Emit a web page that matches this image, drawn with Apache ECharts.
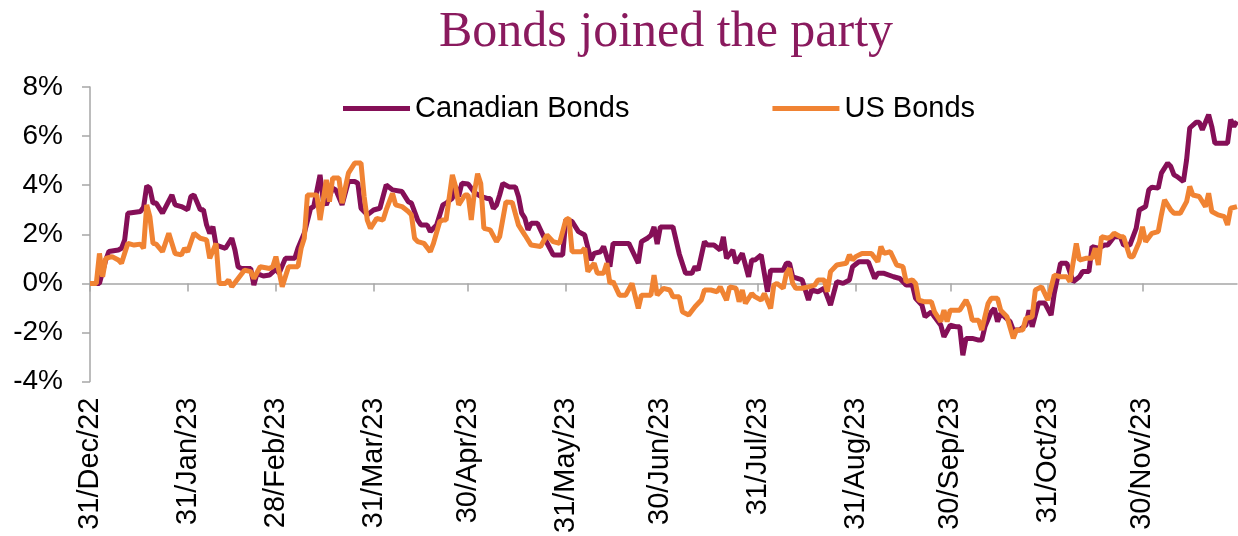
<!DOCTYPE html>
<html>
<head>
<meta charset="utf-8">
<script src="https://cdn.jsdelivr.net/npm/echarts@6/dist/echarts.min.js"></script>
<style>html,body{margin:0;padding:0;background:#fff;}#c{width:1238px;height:536px;}</style>
</head>
<body>
<div id="c"></div>
<script>
// Month-end tick labels on the x axis
const tickLabels = ['31/Dec/22','31/Jan/23','28/Feb/23','31/Mar/23','30/Apr/23','31/May/23','30/Jun/23','31/Jul/23','31/Aug/23','30/Sep/23','31/Oct/23','30/Nov/23'];
const yTicks = [-4, -2, 0, 2, 4, 6, 8];
const seriesNames = ['Canadian Bonds', 'US Bonds'];

// [day index since 31/Dec/22, % return]
const canadian = [[0,0],[3,0],[5,0.95],[6,1.3],[9,1.36],[10,1.43],[11,1.77],[12,2.86],[16,2.93],[17,3.1],[18,3.97],[19,3.88],[20,3.27],[21,3.27],[23,2.86],[26,3.6],[27,3.2],[29,3.13],[31,3.0],[32,3.54],[33,3.6],[35,3.0],[36,3.0],[37,2.38],[38,2.04],[39,2.31],[40,1.56],[43,1.43],[45,1.84],[46,1.36],[47,0.68],[48,0.61],[51,0.61],[52,-0.07],[53,0.4],[55,0.3],[57,0.34],[59,0.58],[60,0.41],[62,1.02],[65,1.02],[66,1.43],[68,2.04],[70,3.06],[71,3.13],[73,4.42],[74,3.4],[75,3.2],[77,3.88],[78,3.81],[80,3.2],[82,4.15],[84,4.15],[85,4.08],[86,3.06],[88,2.79],[90,2.99],[92,3.06],[94,4.01],[96,3.81],[99,3.74],[101,3.33],[102,3.27],[104,2.58],[105,2.38],[107,2.38],[108,2.11],[110,2.38],[112,3.2],[113,3.27],[115,3.47],[116,3.95],[117,3.54],[118,4.08],[120,4.05],[122,3.7],[124,3.55],[126,3.46],[127,3.46],[128,3.05],[129,3.19],[130,3.6],[131,4.07],[133,3.93],[135,3.93],[136,3.53],[137,2.86],[138,2.66],[139,2.18],[140,2.45],[142,2.45],[144,1.9],[147,1.16],[150,1.16],[151,2.59],[153,2.52],[155,2.11],[157,1.97],[159,0.95],[160,1.22],[162,1.29],[163,1.5],[165,0.68],[166,1.63],[169,1.63],[171,1.63],[174,0.82],[175,1.7],[177,1.85],[178,1.96],[179,2.3],[180,1.6],[181,2.3],[185,2.3],[187,1.2],[189,0.41],[191,0.41],[192,0.68],[193,0.54],[195,1.7],[196,1.56],[198,1.56],[200,1.36],[201,1.9],[202,1.02],[204,1.36],[205,0.82],[206,1.02],[207,1.22],[209,0.27],[210,0.95],[211,0.95],[213,1.16],[214,0.41],[215,-0.34],[216,0.54],[218,0.54],[220,0.54],[221,0.82],[222,0.82],[223,0.27],[226,0.14],[228,-0.68],[229,-0.27],[231,-0.34],[233,-0.2],[235,-0.88],[237,0.07],[239,0],[241,0.14],[242,0.68],[244,0.88],[247,0.88],[249,0.2],[250,0.41],[252,0.41],[255,0.27],[257,0.2],[259,-0.07],[261,-0.07],[262,-0.61],[264,-0.88],[265,-1.36],[267,-1.16],[268,-1.36],[270,-1.7],[271,-2.18],[273,-1.7],[275,-1.77],[276,-1.77],[277,-2.93],[278,-2.24],[280,-2.24],[282,-2.31],[283,-2.31],[284,-1.77],[286,-1.16],[287,-1.02],[288,-1.56],[289,-1.22],[292,-1.56],[293,-1.9],[295,-1.9],[297,-1.7],[298,-1.09],[299,-1.77],[301,-0.8],[303,-0.8],[305,-1.29],[306,-0.41],[308,0.82],[310,0.82],[312,0.07],[314,0.27],[315,0.48],[317,0.48],[318,1.5],[320,1.43],[322,1.56],[323,1.56],[325,1.9],[327,1.9],[328,1.56],[330,1.56],[332,2.24],[333,2.99],[335,3.13],[336,3.81],[337,3.92],[339,3.88],[340,4.49],[342,4.9],[343,4.76],[344,4.42],[345,4.35],[347,4.15],[348,5.03],[349,6.33],[351,6.56],[352,6.56],[353,6.26],[355,6.87],[356,6.39],[357,5.71],[359,5.71],[361,5.71],[362,6.67],[363,6.39],[364,6.6]];

const us = [[0,0],[2,0],[3,1.22],[4,0.27],[5,1.02],[7,1.09],[9,0.95],[10,0.82],[12,1.63],[14,1.56],[16,1.6],[17,1.43],[18,3.2],[19,2.72],[20,1.63],[21,1.6],[23,1.29],[25,2.04],[27,1.22],[29,1.16],[30,1.43],[31,1.29],[33,2.04],[35,1.84],[37,1.77],[38,1.02],[40,1.63],[41,0],[43,0],[44,0.14],[45,-0.14],[47,0.2],[49,0.54],[51,0.48],[52,0.2],[54,0.68],[57,0.61],[58,0.68],[59,1.09],[60,0.48],[61,-0.14],[63,0.68],[66,0.68],[67,1.43],[68,1.84],[69,3.6],[72,3.6],[73,2.58],[75,4.22],[76,3.33],[77,4.29],[79,4.29],[80,3.27],[82,4.49],[84,4.9],[86,4.9],[87,3.54],[88,2.58],[89,2.24],[91,2.65],[93,2.58],[94,2.99],[96,3.67],[97,3.2],[99,3.13],[101,2.93],[102,2.79],[103,1.84],[104,1.7],[106,1.63],[108,1.29],[109,1.63],[111,2.52],[112,2.58],[113,2.58],[115,4.42],[116,3.95],[117,3.2],[119,3.6],[120,3.6],[121,2.58],[122,3.73],[123,4.47],[124,4.07],[125,2.24],[127,2.18],[129,1.7],[130,1.9],[132,3.32],[134,3.3],[136,2.37],[138,1.97],[140,1.56],[143,1.5],[145,1.97],[147,1.7],[149,1.63],[151,2.59],[152,2.65],[153,1.29],[156,1.29],[157,1.43],[158,0.48],[160,0.82],[161,0.41],[163,0.41],[164,0.82],[165,0],[166,0.07],[168,-0.48],[170,-0.48],[172,0],[174,-1.02],[175,-0.48],[178,-0.48],[179,0.34],[180,-0.48],[182,-0.2],[184,-0.27],[185,-0.54],[187,-0.54],[188,-1.16],[190,-1.29],[192,-0.95],[194,-0.68],[195,-0.27],[197,-0.27],[199,-0.34],[200,-0.14],[202,-0.68],[203,-0.14],[205,-0.2],[206,-0.75],[207,-0.27],[208,-0.82],[210,-0.41],[211,-0.54],[213,-0.68],[214,-0.41],[216,-1.02],[217,-0.07],[218,0],[220,-0.2],[221,0.41],[222,0.61],[223,0],[224,-0.2],[226,-0.2],[228,-0.14],[230,-0.07],[231,0.14],[233,0.14],[234,-0.34],[235,0.48],[237,0.75],[240,0.82],[241,1.16],[242,0.95],[243,1.09],[245,1.22],[248,1.22],[250,0.88],[251,1.5],[252,1.22],[254,1.29],[256,0.75],[258,0.68],[259,0.07],[261,0.14],[262,0],[263,-0.68],[265,-0.75],[267,-0.75],[268,-1.16],[270,-1.56],[271,-1.09],[272,-1.56],[273,-1.09],[276,-1.09],[278,-0.68],[279,-0.95],[280,-1.5],[282,-1.5],[283,-1.9],[285,-0.82],[286,-0.61],[288,-0.61],[289,-1.09],[291,-1.36],[293,-2.24],[294,-1.9],[296,-1.9],[297,-1.43],[299,-1.36],[300,-0.27],[302,-0.14],[304,-0.68],[306,0.34],[308,0.27],[310,0.27],[311,0.07],[313,1.63],[314,0.95],[316,1.02],[318,1.02],[319,1.43],[320,0.75],[321,1.9],[323,1.84],[324,1.9],[325,2.04],[327,1.9],[328,1.9],[330,1.09],[331,1.09],[333,1.7],[334,2.31],[335,1.7],[337,2.04],[339,2.11],[340,2.79],[341,3.4],[343,2.99],[344,2.86],[346,2.86],[348,3.33],[349,3.95],[350,3.6],[352,3.54],[354,3.13],[355,3.67],[356,2.93],[358,2.79],[360,2.72],[361,2.38],[362,3.06],[364,3.13]];

// Calendar-day categories from 31/Dec/22 to 30/Dec/23
const monthNames = ['Jan','Feb','Mar','Apr','May','Jun','Jul','Aug','Sep','Oct','Nov','Dec'];
const categories = [];
for (let i = 0; i < 365; i++) {
  const dt = new Date(2022, 11, 31 + i);
  categories.push(dt.getDate() + '/' + monthNames[dt.getMonth()] + '/' + String(dt.getFullYear()).slice(2));
}
const isTick = (idx, val) => tickLabels.indexOf(val) !== -1;

const chart = echarts.init(document.getElementById('c'), null, {renderer: 'canvas'});
const font = 'Liberation Sans, Arial, sans-serif';
chart.setOption({
  animation: false,
  backgroundColor: '#ffffff',
  title: {
    text: 'Bonds joined the party',
    left: 434, top: 3,
    textStyle: {fontFamily: 'Liberation Serif, Times New Roman, serif', fontSize: 50, fontWeight: 'normal', color: '#8a1a5e'}
  },
  legend: {
    data: seriesNames,
    left: 338, top: 89,
    icon: 'rect', itemWidth: 67, itemHeight: 5, itemGap: 143,
    textStyle: {fontFamily: font, fontSize: 29, color: '#000'}
  },
  grid: {left: 90, right: 1, top: 87, bottom: 154, containLabel: false},
  xAxis: [{
    type: 'category', data: categories, boundaryGap: false,
    axisLine: {onZero: true, lineStyle: {color: '#a6a6a6', width: 1.5}},
    axisTick: {show: true, interval: isTick, length: 8, lineStyle: {color: '#a6a6a6', width: 1.5}},
    axisLabel: {show: false},
    splitLine: {show: false}
  }, {
    type: 'category', data: categories, boundaryGap: false, position: 'bottom',
    axisLine: {show: false, onZero: false},
    axisTick: {show: false},
    axisLabel: {show: true, interval: isTick, rotate: 90, margin: 16, fontFamily: font, fontSize: 29, color: '#000'},
    splitLine: {show: false}
  }],
  yAxis: {
    type: 'value', min: yTicks[0], max: yTicks[yTicks.length - 1], interval: 2,
    axisLine: {show: true, lineStyle: {color: '#a6a6a6', width: 1.5}},
    axisTick: {show: true, length: 8, lineStyle: {color: '#a6a6a6', width: 1.5}},
    axisLabel: {formatter: '{value}%', margin: 27, fontFamily: font, fontSize: 28, color: '#000'},
    splitLine: {show: false}
  },
  series: [{
    name: seriesNames[0], type: 'line', data: canadian, xAxisIndex: 0,
    showSymbol: false, symbol: 'none', connectNulls: true,
    lineStyle: {color: '#850f57', width: 5}, itemStyle: {color: '#850f57'}, z: 2
  }, {
    name: seriesNames[1], type: 'line', data: us, xAxisIndex: 0,
    showSymbol: false, symbol: 'none', connectNulls: true,
    lineStyle: {color: '#f08333', width: 5}, itemStyle: {color: '#f08333'}, z: 3
  }]
});
</script>
</body>
</html>
